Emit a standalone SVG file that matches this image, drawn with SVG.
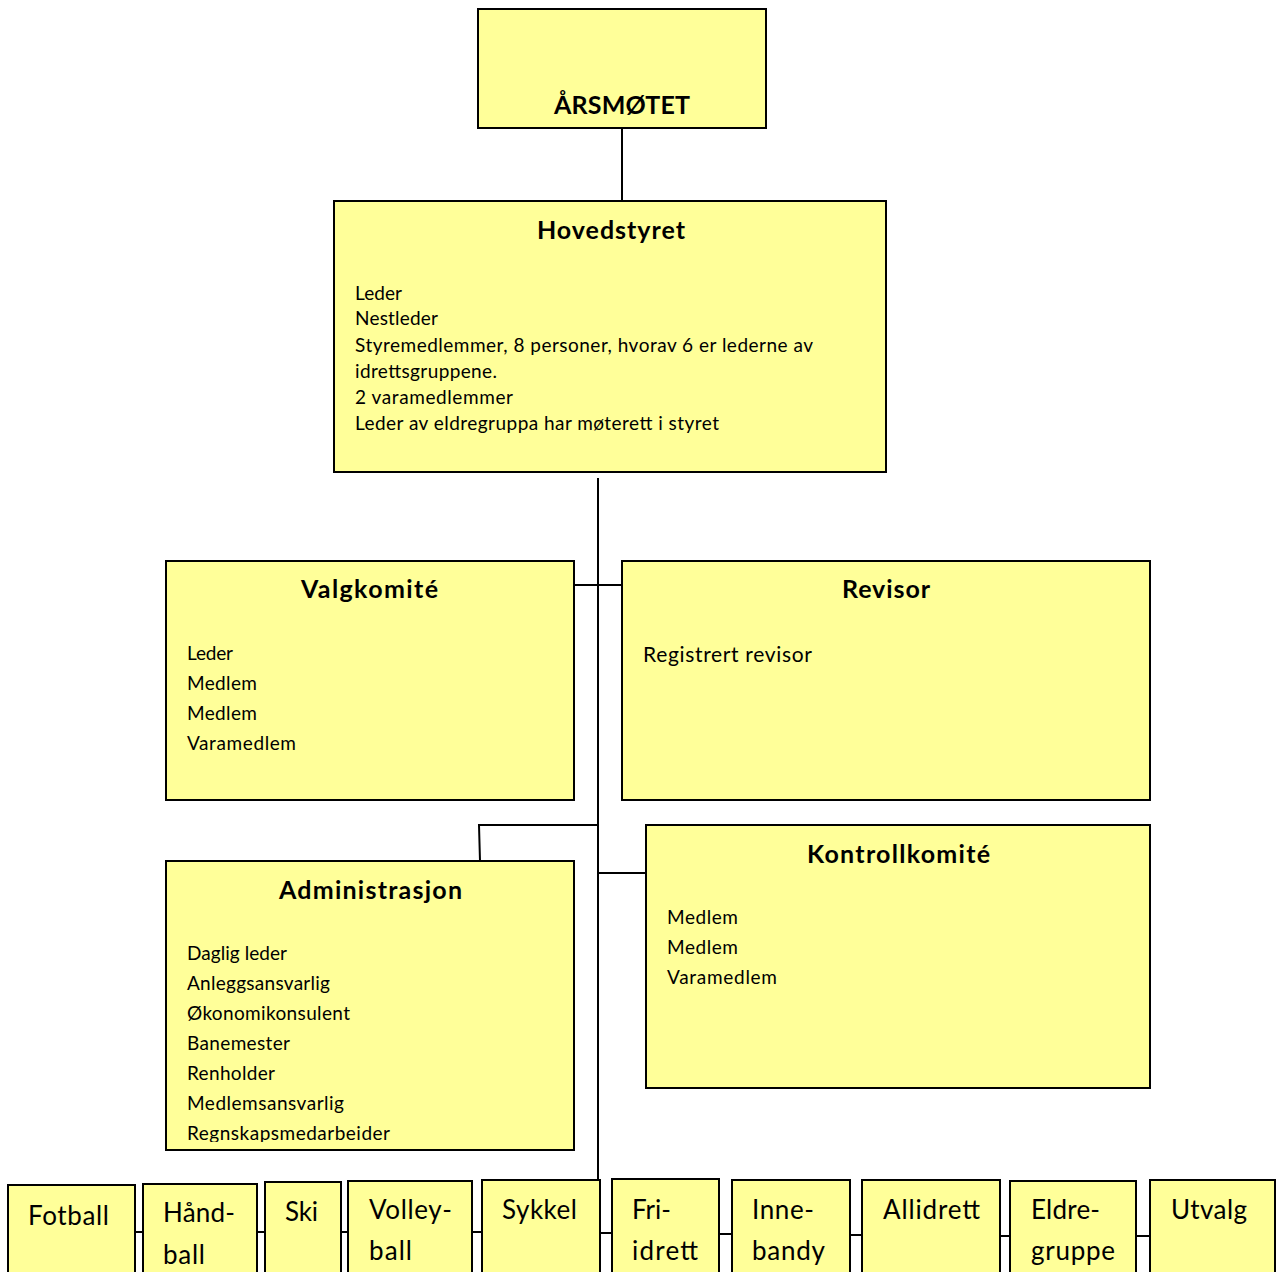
<svg xmlns="http://www.w3.org/2000/svg" width="1276" height="1272" viewBox="0 0 1276 1272">
<style>
.box{fill:#FFFF99;stroke:#000;stroke-width:2}
.ln{stroke:#000;stroke-width:2;fill:none}
text{font-family:Lato,"Open Sans","Liberation Sans",sans-serif;fill:#000}
.t{font-weight:bold;font-size:25px}
.s{font-size:19px}
.m{font-size:21px}
.b{font-size:26px}
</style>
<defs>
<clipPath id="admclip"><rect x="166" y="861" width="408" height="281"/></clipPath>
</defs>
<rect width="1276" height="1272" fill="#fff"/>
<g id="connectors">
<line class="ln" x1="622" y1="128" x2="622" y2="201"/>
<line class="ln" x1="598" y1="478" x2="598" y2="1179"/>
<line class="ln" x1="574" y1="585" x2="622" y2="585"/>
<polyline class="ln" points="598,825 479,825 480,861"/>
<line class="ln" x1="598" y1="873" x2="646" y2="873"/>
<line class="ln" x1="135" y1="1232" x2="143" y2="1232"/>
<line class="ln" x1="257" y1="1232" x2="265" y2="1232"/>
<line class="ln" x1="341" y1="1232" x2="348" y2="1232"/>
<line class="ln" x1="472" y1="1232" x2="482" y2="1232"/>
<line class="ln" x1="600" y1="1233" x2="612" y2="1233"/>
<line class="ln" x1="719" y1="1234" x2="732" y2="1234"/>
<line class="ln" x1="850" y1="1235" x2="862" y2="1235"/>
<line class="ln" x1="1000" y1="1236" x2="1010" y2="1236"/>
<line class="ln" x1="1136" y1="1236" x2="1150" y2="1236"/>
</g>
<g id="arsmotet">
<rect class="box" x="478" y="9" width="288" height="119"/>
<text class="t" x="554" y="114" textLength="136" lengthAdjust="spacing">ÅRSMØTET</text>
</g>
<g id="hovedstyret">
<rect class="box" x="334" y="201" width="552" height="271"/>
<text class="t" x="537" y="239" textLength="148" lengthAdjust="spacing">Hovedstyret</text>
<text class="s" x="355" y="300" textLength="47" lengthAdjust="spacing">Leder</text>
<text class="s" x="355" y="325" textLength="83" lengthAdjust="spacing">Nestleder</text>
<text class="s" x="355" y="352" textLength="458" lengthAdjust="spacing">Styremedlemmer, 8 personer, hvorav 6 er lederne av</text>
<text class="s" x="355" y="378" textLength="142" lengthAdjust="spacing">idrettsgruppene.</text>
<text class="s" x="355" y="404" textLength="158" lengthAdjust="spacing">2 varamedlemmer</text>
<text class="s" x="355" y="430" textLength="364" lengthAdjust="spacing">Leder av eldregruppa har møterett i styret</text>
</g>
<g id="valgkomite">
<rect class="box" x="166" y="561" width="408" height="239"/>
<text class="t" x="301" y="598" textLength="137" lengthAdjust="spacing">Valgkomité</text>
<text class="s" x="187" y="660" textLength="46" lengthAdjust="spacing">Leder</text>
<text class="s" x="187" y="690" textLength="70" lengthAdjust="spacing">Medlem</text>
<text class="s" x="187" y="720" textLength="70" lengthAdjust="spacing">Medlem</text>
<text class="s" x="187" y="750" textLength="109" lengthAdjust="spacing">Varamedlem</text>
</g>
<g id="revisor">
<rect class="box" x="622" y="561" width="528" height="239"/>
<text class="t" x="842" y="598" textLength="88" lengthAdjust="spacing">Revisor</text>
<text class="m" x="643" y="662" textLength="169" lengthAdjust="spacing">Registrert revisor</text>
</g>
<g id="administrasjon">
<rect class="box" x="166" y="861" width="408" height="289"/>
<text class="t" x="279" y="899" textLength="183" lengthAdjust="spacing">Administrasjon</text>
<g clip-path="url(#admclip)">
<text class="s" x="187" y="960" textLength="100" lengthAdjust="spacing">Daglig leder</text>
<text class="s" x="187" y="990" textLength="143" lengthAdjust="spacing">Anleggsansvarlig</text>
<text class="s" x="187" y="1020" textLength="163" lengthAdjust="spacing">Økonomikonsulent</text>
<text class="s" x="187" y="1050" textLength="103" lengthAdjust="spacing">Banemester</text>
<text class="s" x="187" y="1080" textLength="88" lengthAdjust="spacing">Renholder</text>
<text class="s" x="187" y="1110" textLength="157" lengthAdjust="spacing">Medlemsansvarlig</text>
<text class="s" x="187" y="1140" textLength="203" lengthAdjust="spacing">Regnskapsmedarbeider</text>
</g>
</g>
<g id="kontrollkomite">
<rect class="box" x="646" y="825" width="504" height="263"/>
<text class="t" x="807" y="863" textLength="183" lengthAdjust="spacing">Kontrollkomité</text>
<text class="s" x="667" y="924" textLength="71" lengthAdjust="spacing">Medlem</text>
<text class="s" x="667" y="954" textLength="71" lengthAdjust="spacing">Medlem</text>
<text class="s" x="667" y="984" textLength="110" lengthAdjust="spacing">Varamedlem</text>
</g>
<g id="fotball">
<rect class="box" x="8" y="1185" width="127" height="100"/>
<text class="b" x="28" y="1225" textLength="81" lengthAdjust="spacing">Fotball</text>
</g>
<g id="handball">
<rect class="box" x="143" y="1184" width="114" height="100"/>
<text class="b" x="163" y="1222" textLength="72" lengthAdjust="spacing">Hånd-</text>
<text class="b" x="163" y="1264" textLength="42" lengthAdjust="spacing">ball</text>
</g>
<g id="ski">
<rect class="box" x="265" y="1182" width="76" height="100"/>
<text class="b" x="285" y="1221" textLength="33" lengthAdjust="spacing">Ski</text>
</g>
<g id="volleyball">
<rect class="box" x="348" y="1181" width="124" height="100"/>
<text class="b" x="369" y="1219" textLength="83" lengthAdjust="spacing">Volley-</text>
<text class="b" x="369" y="1260" textLength="43" lengthAdjust="spacing">ball</text>
</g>
<g id="sykkel">
<rect class="box" x="482" y="1180" width="118" height="100"/>
<text class="b" x="502" y="1219" textLength="75" lengthAdjust="spacing">Sykkel</text>
</g>
<g id="friidrett">
<rect class="box" x="612" y="1179" width="107" height="100"/>
<text class="b" x="632" y="1219" textLength="39" lengthAdjust="spacing">Fri-</text>
<text class="b" x="632" y="1260" textLength="66" lengthAdjust="spacing">idrett</text>
</g>
<g id="innebandy">
<rect class="box" x="732" y="1180" width="118" height="100"/>
<text class="b" x="752" y="1219" textLength="62" lengthAdjust="spacing">Inne-</text>
<text class="b" x="752" y="1260" textLength="73" lengthAdjust="spacing">bandy</text>
</g>
<g id="allidrett">
<rect class="box" x="862" y="1180" width="138" height="100"/>
<text class="b" x="883" y="1219" textLength="97" lengthAdjust="spacing">Allidrett</text>
</g>
<g id="eldregruppe">
<rect class="box" x="1010" y="1181" width="126" height="100"/>
<text class="b" x="1031" y="1219" textLength="69" lengthAdjust="spacing">Eldre-</text>
<text class="b" x="1031" y="1260" textLength="84" lengthAdjust="spacing">gruppe</text>
</g>
<g id="utvalg">
<rect class="box" x="1150" y="1180" width="125" height="100"/>
<text class="b" x="1171" y="1219" textLength="76" lengthAdjust="spacing">Utvalg</text>
</g>
</svg>
